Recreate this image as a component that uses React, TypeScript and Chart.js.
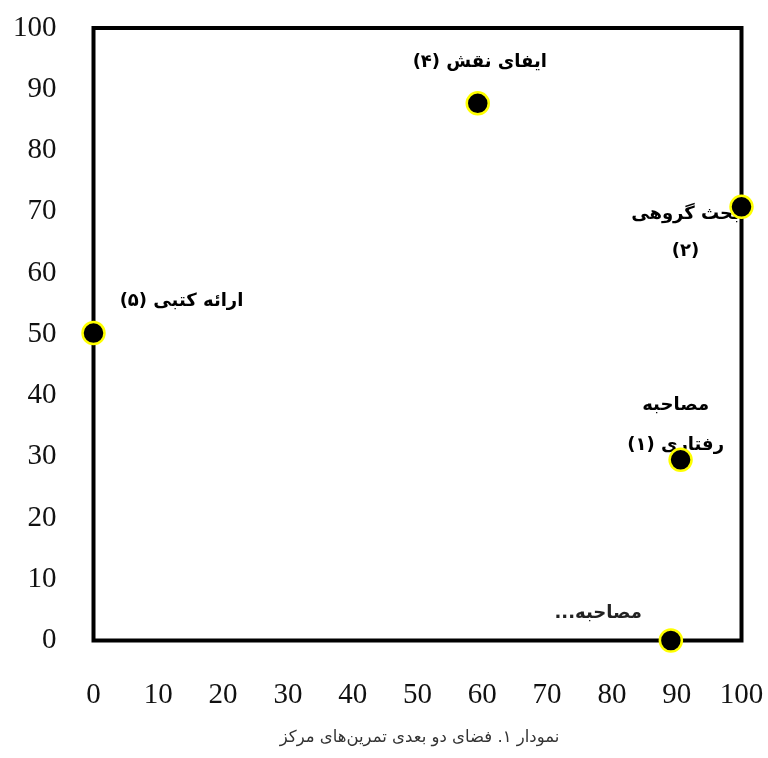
import React, { useEffect, useRef } from "react";
import { Chart, registerables } from "chart.js";

Chart.register(...registerables);

const pointNames: string[][] = [
  ["مصاحبه", "رفتاری (۱)"],
  ["بحث گروهی", "(۲)"],
  ["ایفای نقش (۴)"],
  ["ارائه کتبی (۵)"],
  ["مصاحبه..."],
];
const xValues = [90.6, 100, 59.3, 0, 89.1];
const yValues = [29.5, 70.8, 87.7, 50.2, 0];
const tickValues = [0, 10, 20, 30, 40, 50, 60, 70, 80, 90, 100];
const captionText = "نمودار ۱. فضای دو بعدی تمرین‌های مرکز";

// label placement relative to each point
const labelPlacement: { dx: number; dy: number; gap: number; align: CanvasTextAlign }[] = [
  { dx: -5, dy: -54, gap: 40, align: "center" },
  { dx: -56, dy: 7, gap: 37, align: "center" },
  { dx: 2, dy: -41, gap: 0, align: "center" },
  { dx: 88, dy: -32, gap: 0, align: "center" },
  { dx: -29, dy: -27, gap: 0, align: "right" },
];

const SERIF = '"Liberation Serif", "Times New Roman", serif';
const ARABIC = '"DejaVu Sans", "Noto Sans", sans-serif';

export default function App() {
  const ref = useRef<HTMLCanvasElement | null>(null);

  useEffect(() => {
    if (!ref.current) return;
    const framePlugin = {
      id: "frameAndLabels",
      beforeDatasetsDraw(chart: any) {
        const { ctx, chartArea } = chart;
        ctx.save();
        ctx.strokeStyle = "#000";
        ctx.lineWidth = 4;
        ctx.strokeRect(
          chartArea.left,
          chartArea.top,
          chartArea.right - chartArea.left,
          chartArea.bottom - chartArea.top
        );
        const meta = chart.getDatasetMeta(0);
        ctx.font = `bold 18px ${ARABIC}`;
        ctx.textBaseline = "middle";
        (ctx as any).direction = "rtl";
        meta.data.forEach((el: any, i: number) => {
          const p = labelPlacement[i];
          ctx.textAlign = p.align;
          ctx.fillStyle = i === 4 ? "#222" : "#000";
          pointNames[i].forEach((line, j) => {
            ctx.fillText(line, el.x + p.dx, el.y + p.dy + j * p.gap);
          });
        });
        ctx.restore();
      },
      afterDraw(chart: any) {
        const { ctx, chartArea } = chart;
        ctx.save();
        (ctx as any).direction = "rtl";
        ctx.font = `16.5px ${ARABIC}`;
        ctx.fillStyle = "#333";
        ctx.textAlign = "center";
        ctx.textBaseline = "middle";
        ctx.fillText(captionText, (chartArea.left + chartArea.right) / 2 + 2, 738);
        ctx.restore();
      },
    };

    const chart = new Chart(ref.current, {
      type: "scatter",
      data: {
        datasets: [
          {
            data: xValues.map((x, i) => ({ x, y: yValues[i] })),
            backgroundColor: "#000",
            borderColor: "#FFFF00",
            borderWidth: 2.5,
            pointRadius: 11,
            pointHoverRadius: 11,
            clip: false as any,
          },
        ],
      },
      options: {
        animation: false,
        responsive: false,
        events: [],
        layout: { autoPadding: false, padding: { top: 28, right: 26.5, left: 0, bottom: 0 } },
        plugins: { legend: { display: false }, tooltip: { enabled: false } },
        scales: {
          x: {
            type: "linear",
            min: 0,
            max: 100,
            afterBuildTicks: (s: any) => {
              s.ticks = tickValues.map((v) => ({ value: v }));
            },
            afterFit: (s: any) => {
              s.height = 117.5;
              s.paddingLeft = 0;
              s.paddingRight = 0;
            },
            grid: { display: false, drawTicks: false },
            border: { display: false },
            ticks: {
              padding: 37,
              color: "#111",
              font: { family: SERIF, size: 29 },
              maxRotation: 0,
            },
          },
          y: {
            type: "linear",
            min: 0,
            max: 100,
            afterBuildTicks: (s: any) => {
              s.ticks = tickValues.map((v) => ({ value: v }));
            },
            afterFit: (s: any) => {
              s.width = 93.5;
              s.paddingTop = 0;
              s.paddingBottom = 0;
            },
            grid: { display: false, drawTicks: false },
            border: { display: false },
            ticks: {
              padding: 37,
              color: "#111",
              font: { family: SERIF, size: 29 },
            },
          },
        },
      },
      plugins: [framePlugin],
    });
    return () => chart.destroy();
  }, []);

  return (
    <div style={{ position: "absolute", left: 0, top: 0, width: 768, height: 758 }}>
      <canvas ref={ref} width={768} height={758} style={{ display: "block" }} />
    </div>
  );
}
